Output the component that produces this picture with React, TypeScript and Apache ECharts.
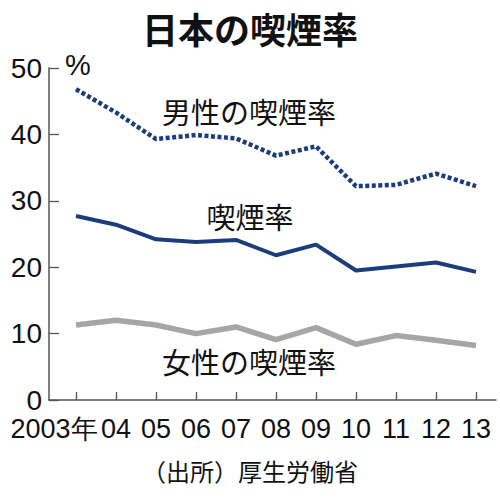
import React, { useEffect, useRef } from "react";
import * as echarts from "echarts";

const years = [2003, 2004, 2005, 2006, 2007, 2008, 2009, 2010, 2011, 2012, 2013];
const yearLabels = ["2003年", "04", "05", "06", "07", "08", "09", "10", "11", "12", "13"];
const maleRate = [46.8, 43.3, 39.3, 39.9, 39.4, 36.8, 38.2, 32.2, 32.4, 34.1, 32.2];
const totalRate = [27.7, 26.4, 24.2, 23.8, 24.1, 21.8, 23.4, 19.5, 20.1, 20.7, 19.3];
const femaleRate = [11.3, 12.0, 11.3, 10.0, 11.0, 9.1, 10.9, 8.4, 9.7, 9.0, 8.2];
const yTicks = [0, 10, 20, 30, 40, 50];

const NUM = "'Liberation Sans Narrow', 'Arial Narrow', 'Liberation Sans', sans-serif";
const JP = "'Noto Sans CJK JP', sans-serif";
const NAVY = "#1c3d7c";
const GRAY = "#a6a6a6";
const AXIS = "#555";

const App = () => {
  const chartRef = useRef<HTMLDivElement>(null);

  useEffect(() => {
    const chart = echarts.init(chartRef.current, null, { renderer: "svg" });

    const option = {
      animation: false,
      backgroundColor: "#fff",
      grid: { left: 49, right: 4, top: 68, bottom: 100 },
      xAxis: {
        type: "value",
        min: 2002.325,
        max: 2013.5,
        axisLine: { show: true, lineStyle: { color: AXIS, width: 1.5 } },
        axisTick: { show: true, inside: true, length: 8, customValues: years, lineStyle: { color: AXIS, width: 1.3 } },
        splitLine: { show: false },
        axisLabel: {
          customValues: years,
          showMinLabel: true,
          showMaxLabel: true,
          hideOverlap: false,
          margin: 15,
          color: "#111",
          fontSize: 27,
          fontFamily: NUM,
          formatter: (v: number) => {
            const i = years.indexOf(Math.round(v));
            if (i === 0) return "{first|" + yearLabels[i] + "}";
            return yearLabels[i] ?? "";
          },
          rich: {
            first: { fontSize: 27, fontFamily: NUM, color: "#111", padding: [0, 44, 0, 0] },
          },
        },
      },
      yAxis: {
        type: "value",
        min: 0,
        max: 50,
        interval: 10,
        name: "%",
        nameLocation: "end",
        nameGap: 3,
        nameTextStyle: { color: "#111", fontSize: 29, fontFamily: NUM, align: "left", verticalAlign: "middle", padding: [0, 0, 0, 16] },
        axisLine: { show: true, lineStyle: { color: AXIS, width: 1.5 } },
        axisTick: { show: true, inside: true, length: 10, lineStyle: { color: AXIS, width: 1.3 } },
        splitLine: { show: false },
        axisLabel: {
          margin: 7,
          color: "#111",
          fontSize: 28,
          fontFamily: NUM,
          formatter: (v: number) => (yTicks.includes(v) ? String(v) : ""),
        },
      },
      series: [
        {
          name: "男性の喫煙率",
          type: "line",
          symbol: "none",
          data: years.map((y, i) => [y, maleRate[i]]),
          lineStyle: { color: NAVY, width: 4.5, type: [4, 2.5] },
        },
        {
          name: "喫煙率",
          type: "line",
          symbol: "none",
          data: years.map((y, i) => [y, totalRate[i]]),
          lineStyle: { color: NAVY, width: 4 },
        },
        {
          name: "女性の喫煙率",
          type: "line",
          symbol: "none",
          data: years.map((y, i) => [y, femaleRate[i]]),
          lineStyle: { color: GRAY, width: 5.5 },
        },
      ],
      graphic: [
        {
          type: "text",
          left: "center",
          top: 10,
          style: { text: "日本の喫煙率", fontSize: 36, fontWeight: "bold", fontFamily: JP, fill: "#111" },
        },
        {
          type: "text",
          x: 249,
          y: 111,
          style: { text: "男性の喫煙率", fontSize: 29, fontFamily: JP, fill: "#111", align: "center", verticalAlign: "middle" },
        },
        {
          type: "text",
          x: 250,
          y: 216,
          style: { text: "喫煙率", fontSize: 29, fontFamily: JP, fill: "#111", align: "center", verticalAlign: "middle" },
        },
        {
          type: "text",
          x: 249,
          y: 361,
          style: { text: "女性の喫煙率", fontSize: 29, fontFamily: JP, fill: "#111", align: "center", verticalAlign: "middle" },
        },
        {
          type: "text",
          x: 250,
          y: 470,
          style: { text: "（出所）厚生労働省", fontSize: 24, fontFamily: JP, fill: "#111", align: "center", verticalAlign: "middle" },
        },
      ],
    };

    chart.setOption(option);
    return () => {
      chart.dispose();
    };
  }, []);

  return (
    <div
      style={{
        position: "fixed",
        left: 0,
        top: 0,
        width: 500,
        height: 500,
        border: "2px solid #333",
        boxSizing: "border-box",
        background: "#fff",
      }}
    >
      <div ref={chartRef} style={{ position: "absolute", left: -2, top: -2, width: 500, height: 500 }} />
    </div>
  );
};

export default App;
